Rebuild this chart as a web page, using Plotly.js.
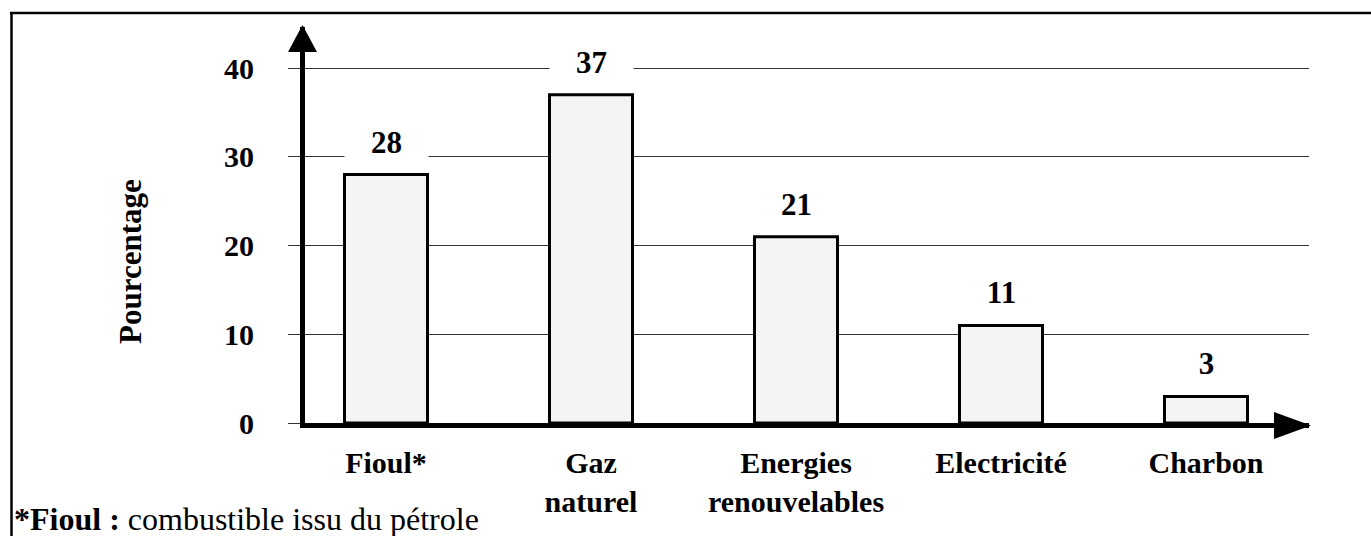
<!DOCTYPE html>
<html>
<head>
<meta charset="utf-8">
<script src="https://cdn.plot.ly/plotly-3.0.1.min.js"></script>
<style>
  html, body { margin: 0; padding: 0; background: #fff; }
  #chart { width: 1371px; height: 536px; }
</style>
</head>
<body>
<div id="chart"></div>
<script>
// ---- data ----
const categories = ["Fioul*", "Gaz<br>naturel", "Energies<br>renouvelables", "Electricité", "Charbon"];
const values = [28, 37, 21, 11, 3];
const yTickVals = [0, 10, 20, 30, 40];
const yTickText = ["0", "10", "20", "30", "40"];
const yAxisTitle = "Pourcentage";
const footnoteBold = "*Fioul :";
const footnoteText = " combustible issu du pétrole";

// ---- layout geometry (pixels) ----
const W = 1371, H = 536;
const L = 305, R = 1309, T = 27, B = 423;
const pxPerUnitY = 8.875;
const pxPerCat = 205;
const firstCenter = 386;
const yMax = (B - T) / pxPerUnitY;
const xMin = (L - firstCenter) / pxPerCat;
const xMax = (R - firstCenter) / pxPerCat;
const px = x => (x - L) / (R - L);
const py = y => (B - y) / (B - T);

const FONT = "Liberation Serif, Times New Roman, serif";
const xs = values.map((v, i) => i);

const trace = {
  type: "bar",
  x: xs,
  y: values,
  width: 0.405,
  marker: {
    color: "#f4f4f4",
    line: { color: "#000", width: 3 }
  },
  hoverinfo: "none",
  showlegend: false
};

const annotations = values.map((v, i) => ({
  x: i, y: v, xref: "x", yref: "y",
  text: "<b>" + v + "</b>",
  showarrow: false,
  yanchor: "bottom",
  yshift: 14,
  width: 83,
  bgcolor: "#fff",
  borderpad: 0,
  font: { family: FONT, size: 31, color: "#000" }
}));

annotations.push({
  x: px(130), y: py(262), xref: "paper", yref: "paper",
  text: "<b>" + yAxisTitle + "</b>",
  textangle: -90, showarrow: false,
  xanchor: "center", yanchor: "middle",
  font: { family: FONT, size: 31, color: "#000" }
});

annotations.push({
  x: px(12), y: py(519), xref: "paper", yref: "paper",
  text: "<b>" + footnoteBold + "</b>" + footnoteText,
  showarrow: false, xanchor: "left", yanchor: "middle",
  font: { family: FONT, size: 32, color: "#000" }
});

const shapes = [
  // frame (left and top edges)
  { type: "line", xref: "paper", yref: "paper", x0: px(11.5), x1: px(11.5), y0: py(12), y1: py(545), line: { color: "#000", width: 2.5 } },
  { type: "line", xref: "paper", yref: "paper", x0: px(10), x1: px(1380), y0: py(13), y1: py(13), line: { color: "#000", width: 2.5 } },
  // y-axis arrow head
  { type: "path", xref: "paper", yref: "paper", xsizemode: "pixel", ysizemode: "pixel",
    xanchor: px(302.5), yanchor: py(25),
    path: "M -14.5 -27 L 14.5 -27 L 0 0 Z", fillcolor: "#000", line: { width: 0 } },
  // x-axis arrow head
  { type: "path", xref: "paper", yref: "paper", xsizemode: "pixel", ysizemode: "pixel",
    xanchor: px(1311), yanchor: py(425.5),
    path: "M -37 13.5 L -37 -13.5 L 0 0 Z", fillcolor: "#000", line: { width: 0 } }
];

const layout = {
  width: W, height: H,
  margin: { l: L, r: W - R, t: T, b: H - B, pad: 0 },
  paper_bgcolor: "#fff",
  plot_bgcolor: "#fff",
  font: { family: FONT, color: "#000" },
  xaxis: {
    range: [xMin, xMax],
    tickmode: "array",
    tickvals: xs,
    ticktext: categories.map(c => "<b>" + c.replace("<br>", "</b><br><b>") + "</b>"),
    tickfont: { family: FONT, size: 30, color: "#000" },
    ticks: "",
    showgrid: false,
    zeroline: false,
    showline: true, linecolor: "#000", linewidth: 5,
    ticklabelstandoff: 9,
    fixedrange: true
  },
  yaxis: {
    range: [0, yMax],
    tickmode: "array",
    tickvals: yTickVals,
    ticktext: yTickText.map(t => "<b>" + t + "</b>"),
    tickfont: { family: FONT, size: 30, color: "#000" },
    ticks: "outside", ticklen: 12, tickwidth: 1, tickcolor: "#333",
    showgrid: true, gridcolor: "#333", gridwidth: 1,
    zeroline: false,
    showline: true, linecolor: "#000", linewidth: 5,
    ticklabelstandoff: 28,
    fixedrange: true
  },
  annotations: annotations,
  shapes: shapes,
  bargap: 0.5
};

Plotly.newPlot("chart", [trace], layout, { displayModeBar: false, staticPlot: true });
</script>
</body>
</html>
